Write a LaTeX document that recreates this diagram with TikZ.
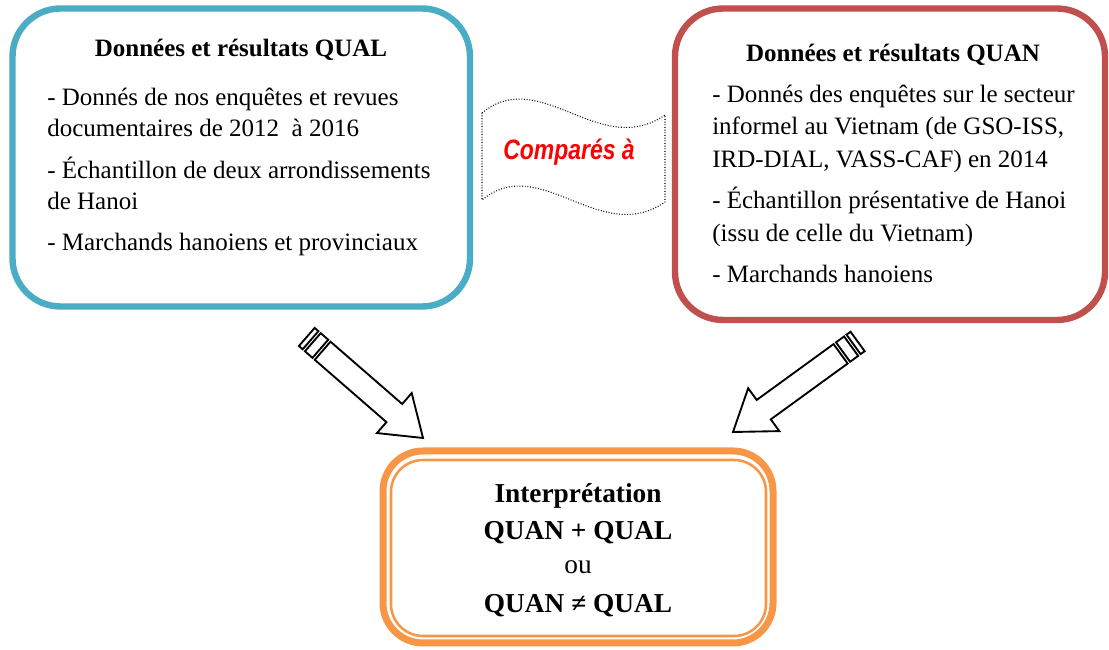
\documentclass[tikz,border=0pt]{standalone}
\usepackage{fontspec}
\setmainfont{Liberation Serif}
\newfontfamily\cmpfont{Liberation Sans}
\definecolor{qualblue}{HTML}{4BACC6}
\definecolor{quanred}{HTML}{C0504D}
\definecolor{interporange}{HTML}{F79646}
\definecolor{cmpred}{HTML}{FF0000}
\begin{document}
\begin{tikzpicture}[x=0.75pt,y=0.75pt,
  boxline/.style={line width=4.8pt, rounded corners=36pt, fill=white, inner sep=0pt},
  bodytext/.style={font=\fontsize{18.75}{23.6}\selectfont, align=left, inner sep=0pt},
  titletext/.style={font=\fontsize{18.75}{23.6}\selectfont\bfseries, inner sep=0pt},
  arrowshape/.style={draw=black, line width=1.4pt, fill=white, line join=miter}]
\useasboundingbox (0,0) rectangle (1109,649);
% boxes
\node[boxline, draw=qualblue, minimum width=343.1pt, minimum height=223.5pt] (qual) at (241.25,491.5) {};
\node[boxline, draw=quanred, minimum width=322.5pt, minimum height=233.6pt] (quan) at (890,484.75) {};
\node[draw=interporange, line width=5.25pt, rounded corners=30pt, minimum width=292.5pt, minimum height=144pt, inner sep=0pt] (interp) at (578,102) {};
\node[draw=interporange, line width=1.9pt, rounded corners=24pt, minimum width=281.25pt, minimum height=132pt, inner sep=0pt] (interpin) at (578.5,101) {};
% texts
\node[titletext, anchor=base] (qualtitle) at (241,592) {Données et résultats QUAL};
\node[bodytext, anchor=base west] (qualbody) at (47,398) {- Donnés de nos enquêtes et revues\\ documentaires de 2012~~à 2016\\[7.5pt] - Échantillon de deux arrondissements\\ de Hanoi\\[7.5pt] - Marchands hanoiens et provinciaux};
\node[titletext, anchor=base] (quantitle) at (893,587) {Données et résultats QUAN};
\node[bodytext, font=\fontsize{18.75}{24.4}\selectfont, anchor=base west] (quanbody) at (712,366) {- Donnés des enquêtes sur le secteur\\ informel au Vietnam (de GSO-ISS,\\ IRD-DIAL, VASS-CAF) en 2014\\[6.75pt] - Échantillon présentative de Hanoi\\ (issu de celle du Vietnam)\\[6.75pt] - Marchands hanoiens};
\node[font=\fontsize{20.5}{25.5}\selectfont\bfseries, align=center, inner sep=0pt, anchor=base] (interptext) at (578,36) {Interprétation\\[2.25pt] QUAN + QUAL\\ {\mdseries ou}\\[3.75pt] QUAN ≠ QUAL};
% compare banner
\draw[line width=0.8pt, dash pattern=on 0.7pt off 1.3pt] (482,536) .. controls (540,584) and (600,489) .. (665,534) -- (665,447) .. controls (600,402) and (540,497) .. (482,449) -- cycle;
\node[text=cmpred, font=\fontsize{21}{21}\cmpfont\bfseries\itshape, inner sep=0pt, anchor=base] (cmp) at (569,489) {\scalebox{0.82}[1]{Comparés à}};
% arrows
\coordinate (tipL) at (423,211);
\coordinate (tipR) at (733,217);
\begin{scope}[shift={(tipL)}, rotate=-41]
\draw[arrowshape] (0,0) -- (-38,26.5) -- (-38,12) -- (-133,12) -- (-133,-12) -- (-38,-12) -- (-38,-26.5) -- cycle;
\draw[arrowshape] (-146,-12) rectangle (-136,12);
\draw[arrowshape] (-154,-12) rectangle (-149,12);
\end{scope}
\begin{scope}[shift={(tipR)}, rotate=-144]
\draw[arrowshape] (0,0) -- (-38,26.5) -- (-38,12) -- (-133,12) -- (-133,-12) -- (-38,-12) -- (-38,-26.5) -- cycle;
\draw[arrowshape] (-146,-12) rectangle (-136,12);
\draw[arrowshape] (-154,-12) rectangle (-149,12);
\end{scope}
\end{tikzpicture}
\end{document}
